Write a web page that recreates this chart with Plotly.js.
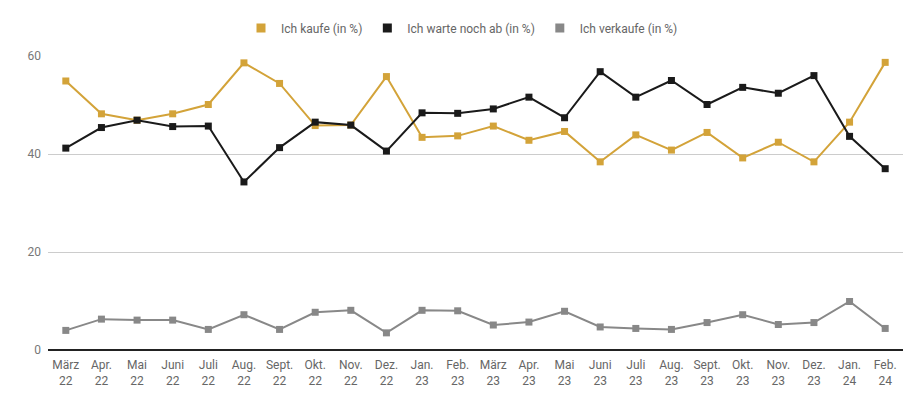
<!DOCTYPE html>
<html>
<head>
<meta charset="utf-8">
<script src="https://cdn.plot.ly/plotly-3.0.1.min.js"></script>
<style>
  html, body { margin: 0; padding: 0; background: #fff; }
  #chart { width: 924px; height: 407px; }
</style>
</head>
<body>
<div id="chart"></div>
<script>
const months = ['März<br>22', 'Apr.<br>22', 'Mai<br>22', 'Juni<br>22', 'Juli<br>22', 'Aug.<br>22',
  'Sept.<br>22', 'Okt.<br>22', 'Nov.<br>22', 'Dez.<br>22', 'Jan.<br>23', 'Feb.<br>23',
  'März<br>23', 'Apr.<br>23', 'Mai<br>23', 'Juni<br>23', 'Juli<br>23', 'Aug.<br>23',
  'Sept.<br>23', 'Okt.<br>23', 'Nov.<br>23', 'Dez.<br>23', 'Jan.<br>24', 'Feb.<br>24'];

const kaufe = [54.9, 48.2, 46.9, 48.2, 50.1, 58.6, 54.4, 45.8, 45.9, 55.8, 43.4, 43.7,
  45.7, 42.8, 44.6, 38.4, 43.9, 40.8, 44.4, 39.2, 42.4, 38.4, 46.5, 58.7];
const warte = [41.2, 45.4, 46.9, 45.6, 45.7, 34.3, 41.3, 46.5, 45.9, 40.6, 48.4, 48.3,
  49.2, 51.6, 47.4, 56.8, 51.6, 55.0, 50.1, 53.6, 52.4, 56.0, 43.6, 37.0];
const verkaufe = [4.0, 6.3, 6.1, 6.1, 4.2, 7.2, 4.2, 7.7, 8.1, 3.5, 8.1, 8.0,
  5.1, 5.7, 7.9, 4.7, 4.4, 4.2, 5.6, 7.2, 5.2, 5.6, 9.9, 4.4];

const seriesNames = ['Ich kaufe (in %)', 'Ich warte noch ab (in %)', 'Ich verkaufe (in %)'];
const seriesColors = ['#d3a339', '#1a1a1a', '#888888'];
const seriesValues = [kaufe, warte, verkaufe];

const traces = [];
seriesValues.forEach((vals, i) => {
  traces.push({
    x: months,
    y: vals,
    type: 'scatter',
    mode: 'lines+markers',
    name: seriesNames[i],
    line: { color: seriesColors[i], width: 2 },
    marker: { color: seriesColors[i], size: 7, symbol: 'square' },
    cliponaxis: false,
    showlegend: false,
    hoverinfo: 'x+y'
  });
});

// legend-only entries: squares without a line
seriesValues.forEach((vals, i) => {
  traces.push({
    x: [null],
    y: [null],
    type: 'scatter',
    mode: 'markers',
    name: seriesNames[i],
    marker: { color: seriesColors[i], size: 9, symbol: 'square' },
    showlegend: true
  });
});

const layout = {
  width: 924,
  height: 407,
  margin: { l: 48, r: 21, t: 56, b: 57 },
  paper_bgcolor: '#fff',
  plot_bgcolor: '#fff',
  font: { family: 'Roboto, sans-serif', size: 12, color: '#666' },
  showlegend: true,
  legend: {
    orientation: 'h',
    x: 0.5,
    xref: 'container',
    xanchor: 'center',
    y: 0.967,
    yanchor: 'top',
    yref: 'container',
    font: { size: 12, color: '#666' },
    itemwidth: 30
  },
  xaxis: {
    type: 'category',
    range: [-0.5, 23.5],
    showgrid: false,
    showline: false,
    zeroline: false,
    ticks: '',
    ticklabelstandoff: 6,
    tickfont: { size: 12, color: '#666' },
    fixedrange: true
  },
  yaxis: {
    range: [0, 60],
    tickvals: [0, 20, 40, 60],
    showgrid: true,
    gridcolor: '#cccccc',
    gridwidth: 1,
    zeroline: true,
    zerolinecolor: '#222',
    zerolinewidth: 1.5,
    showline: false,
    ticks: '',
    ticklabelstandoff: 6,
    tickfont: { size: 12, color: '#777' },
    fixedrange: true
  }
};

Plotly.newPlot('chart', traces, layout, { displayModeBar: false, staticPlot: true });
</script>
</body>
</html>
